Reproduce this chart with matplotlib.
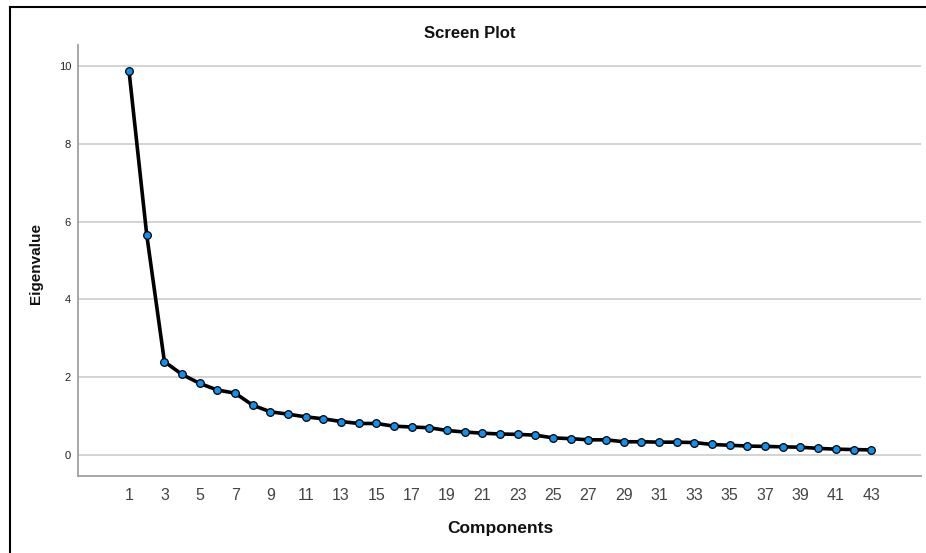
import matplotlib
matplotlib.use('Agg')
from matplotlib import pyplot as plt
from matplotlib.lines import Line2D

plt.rcParams['font.family'] = ['Liberation Sans', 'DejaVu Sans']

components = list(range(1, 44))
eigenvalues = [9.86, 5.66, 2.40, 2.07, 1.84, 1.67, 1.59, 1.28, 1.11, 1.05,
               0.98, 0.93, 0.86, 0.81, 0.81, 0.74, 0.72, 0.70, 0.63, 0.59,
               0.56, 0.54, 0.53, 0.51, 0.44, 0.42, 0.39, 0.39, 0.34, 0.34,
               0.33, 0.33, 0.32, 0.27, 0.25, 0.23, 0.22, 0.21, 0.20, 0.17,
               0.15, 0.14, 0.13]
x_ticks = list(range(1, 44, 2))
y_ticks = [0, 2, 4, 6, 8, 10]

fig = plt.figure(figsize=(9.26, 5.53), dpi=100)
ax = fig.add_axes([78/926, 1-476/553, (921-78)/926, (476-45)/553])

ax.plot(components, eigenvalues, color='black', lw=2.6, zorder=3,
        marker='o', markersize=5.5, markerfacecolor='#1290ee',
        markeredgecolor='black', markeredgewidth=0.9)

ax.set_xlim(-1.89, 45.82)
ax.set_ylim(-0.54, 10.54)
ax.set_xticks(x_ticks)
ax.set_yticks(y_ticks)
ax.tick_params(axis='x', length=0, pad=9, labelsize=11.5, labelcolor='#444444')
ax.tick_params(axis='y', length=0, pad=5, labelsize=8, labelcolor='#222222')
ax.yaxis.grid(True, color='#cccccc', lw=1.2)
ax.set_axisbelow(True)

for s in ['top', 'right']:
    ax.spines[s].set_visible(False)
for s in ['left', 'bottom']:
    ax.spines[s].set_color('#a0a0a0')
    ax.spines[s].set_linewidth(1.3)

fig.text(470/926, 1-33/553, 'Screen Plot', ha='center', va='center',
         fontsize=12, fontweight='bold', color='#111111')
fig.text(500/926, 1-528/553, 'Components', ha='center', va='center',
         fontsize=12.5, fontweight='bold', color='#111111')
fig.text(36/926, 1-264/553, 'Eigenvalue', ha='center', va='center',
         rotation=90, fontsize=11, fontweight='bold', color='#111111')

# frame of the original screenshot (left and top edges only)
fig.add_artist(Line2D([10/926, 10/926], [0, 1-7/553], transform=fig.transFigure,
                      color='black', lw=1.5))
fig.add_artist(Line2D([10/926, 1], [1-7/553, 1-7/553], transform=fig.transFigure,
                      color='black', lw=1.5))

fig.savefig('out.png', dpi=100)
